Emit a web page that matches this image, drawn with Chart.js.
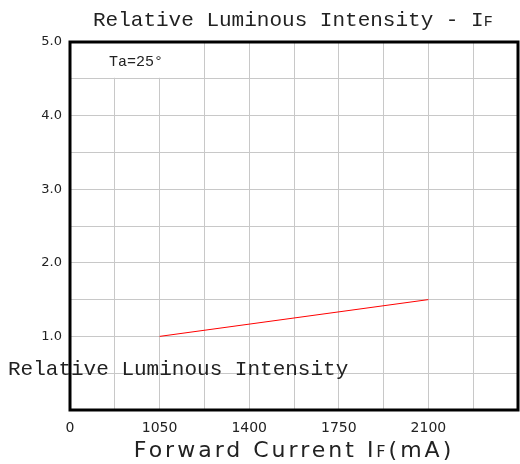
<!DOCTYPE html>
<html>
<head>
<meta charset="utf-8">
<script src="https://cdn.jsdelivr.net/npm/chart.js@4"></script>
<style>
  html, body { margin: 0; padding: 0; background: #fff; }
  #wrap { width: 520px; height: 464px; }
</style>
</head>
<body>
<div id="wrap"><canvas id="chart" width="520" height="464"></canvas></div>
<script>
// ---------- data ----------
const currents = [1050, 2100];          // IF (mA)
const intensity = [1.0, 1.5];           // relative luminous intensity
const xLabelsShown = [1050, 1400, 1750, 2100];
const yLabelsShown = [1, 2, 3, 4, 5];

const X_MIN = 700, X_MAX = 2450, X_STEP = 175;

// ---------- extra drawing (title, notes, frame) ----------
const decor = {
  id: "decor",
  beforeDatasetsDraw(chart) {
    const { ctx, chartArea: a, scales } = chart;
    // blank cell behind the Ta note
    ctx.save();
    ctx.fillStyle = "#fff";
    const x2 = scales.x.getPixelForValue(1225);
    const y2 = scales.y.getPixelForValue(4.5);
    ctx.fillRect(a.left + 1, a.top + 1, x2 - a.left - 2, y2 - a.top - 2);
    ctx.restore();
  },
  afterDraw(chart) {
    const { ctx, chartArea: a } = chart;
    ctx.save();
    // frame
    ctx.strokeStyle = "#000";
    ctx.lineWidth = 3;
    ctx.strokeRect(a.left, a.top, a.right - a.left, a.bottom - a.top);

    ctx.fillStyle = "#222";
    ctx.textBaseline = "middle";
    // title
    ctx.font = "21px 'Liberation Mono', monospace";
    ctx.textAlign = "left";
    ctx.fillText("Relative Luminous Intensity - I", 93, 20);
    const w = ctx.measureText("Relative Luminous Intensity - I").width;
    ctx.font = "15px 'Liberation Mono', monospace";
    ctx.fillText("F", 93 + w, 22);

    // note
    ctx.font = "15px 'Liberation Mono', monospace";
    ctx.fillText("Ta=25\u00b0", 109, 62);

    // y axis title (drawn across the plot like the original)
    ctx.font = "21px 'Liberation Mono', monospace";
    ctx.fillText("Relative Luminous Intensity", 8, 369);

    // x axis title
    ctx.letterSpacing = "3px";
    const p1 = "Forward Current I", p2 = "F", p3 = "(mA)";
    ctx.font = "22px 'DejaVu Sans', sans-serif";
    const w1 = ctx.measureText(p1).width;
    ctx.font = "16px 'DejaVu Sans', sans-serif";
    const w2 = ctx.measureText(p2).width;
    ctx.font = "22px 'DejaVu Sans', sans-serif";
    const w3 = ctx.measureText(p3).width;
    let x0 = (a.left + a.right) / 2 - (w1 + w2 + w3) / 2;
    ctx.fillText(p1, x0, 451);
    ctx.font = "16px 'DejaVu Sans', sans-serif";
    ctx.fillText(p2, x0 + w1, 453);
    ctx.font = "22px 'DejaVu Sans', sans-serif";
    ctx.fillText(p3, x0 + w1 + w2, 451);
    ctx.restore();
  }
};

new Chart(document.getElementById("chart"), {
  type: "line",
  data: {
    datasets: [{
      data: currents.map((c, i) => ({ x: c, y: intensity[i] })),
      borderColor: "#ff0000",
      borderWidth: 1,
      pointRadius: 0,
      tension: 0
    }]
  },
  options: {
    responsive: false,
    animation: false,
    layout: { padding: { top: 42, right: 2, left: 0, bottom: 0 } },
    plugins: { legend: { display: false }, tooltip: { enabled: false } },
    scales: {
      x: {
        type: "linear",
        min: X_MIN, max: X_MAX,
        afterFit(s) { s.height = 54; s.paddingLeft = 0; s.paddingRight = 0; },
        afterBuildTicks(s) {
          const t = [];
          for (let v = X_MIN; v <= X_MAX; v += X_STEP) t.push({ value: v });
          s.ticks = t;
        },
        grid: { color: "#c8c8c8", lineWidth: 1, drawTicks: false },
        border: { display: false },
        ticks: {
          autoSkip: false,
          maxRotation: 0,
          padding: 10,
          color: "#222",
          font: { family: "'DejaVu Sans', sans-serif", size: 14 },
          callback(v) {
            if (v === X_MIN) return "0";
            return xLabelsShown.includes(v) ? String(v) : "";
          }
        }
      },
      y: {
        min: 0, max: 5,
        afterFit(s) { s.width = 70; s.paddingTop = 0; s.paddingBottom = 0; },
        grid: { color: "#c8c8c8", lineWidth: 1, drawTicks: false },
        border: { display: false },
        ticks: {
          stepSize: 0.5,
          autoSkip: false,
          padding: 8,
          color: "#222",
          font: { family: "'DejaVu Sans', sans-serif", size: 13 },
          callback(v) {
            return yLabelsShown.includes(v) ? v.toFixed(1) : "";
          }
        }
      }
    }
  },
  plugins: [decor]
});
</script>
</body>
</html>
